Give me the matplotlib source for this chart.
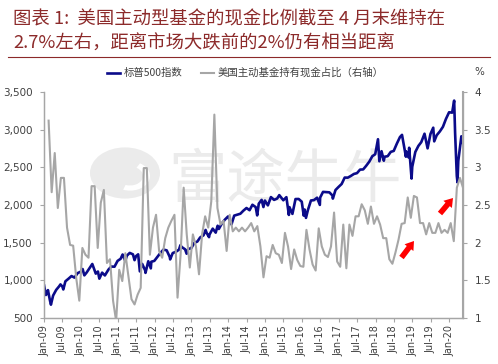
import numpy as np
import pandas as pd
import matplotlib
matplotlib.use("Agg")
import matplotlib.pyplot as plt
from matplotlib.patches import Circle, Wedge, FancyArrowPatch

plt.rcParams['font.family'] = ['Noto Sans CJK SC', 'DejaVu Sans']

# S&P 500 (date, level)
sp_dates = [
    "2009-01-02", "2009-01-20", "2009-01-30", "2009-02-09", "2009-02-27", "2009-03-09",
    "2009-03-31", "2009-04-30", "2009-05-29", "2009-06-12", "2009-06-30", "2009-07-10",
    "2009-07-31", "2009-08-31", "2009-09-30", "2009-10-30", "2009-11-30", "2009-12-31",
    "2010-01-19", "2010-02-05", "2010-02-26", "2010-03-31", "2010-04-23", "2010-05-28",
    "2010-06-18", "2010-07-02", "2010-07-30", "2010-08-27", "2010-09-30", "2010-10-29",
    "2010-11-30", "2010-12-31", "2011-01-31", "2011-02-18", "2011-03-16", "2011-03-31",
    "2011-04-29", "2011-05-31", "2011-06-16", "2011-06-30", "2011-07-22", "2011-08-08",
    "2011-08-31", "2011-09-30", "2011-10-03", "2011-10-31", "2011-11-25", "2011-11-30",
    "2011-12-30", "2012-01-31", "2012-02-29", "2012-03-30", "2012-04-30", "2012-05-31",
    "2012-06-04", "2012-06-29", "2012-07-31", "2012-08-31", "2012-09-14", "2012-09-28",
    "2012-10-31", "2012-11-15", "2012-11-30", "2012-12-31", "2013-01-31", "2013-02-28",
    "2013-03-28", "2013-04-30", "2013-05-21", "2013-05-31", "2013-06-24", "2013-06-28",
    "2013-07-31", "2013-08-30", "2013-09-18", "2013-09-30", "2013-10-31", "2013-11-29",
    "2013-12-31", "2014-02-03", "2014-02-28", "2014-03-31", "2014-04-30", "2014-05-30",
    "2014-06-30", "2014-07-31", "2014-08-29", "2014-09-30", "2014-10-15", "2014-10-31",
    "2014-11-28", "2014-12-16", "2014-12-31", "2015-01-30", "2015-02-27", "2015-03-31",
    "2015-04-30", "2015-05-21", "2015-06-30", "2015-07-31", "2015-08-25", "2015-08-31",
    "2015-09-29", "2015-10-30", "2015-11-30", "2015-12-31", "2016-01-20", "2016-01-29",
    "2016-02-11", "2016-02-29", "2016-03-31", "2016-04-29", "2016-05-31", "2016-06-27",
    "2016-06-30", "2016-07-29", "2016-08-31", "2016-09-30", "2016-10-31", "2016-11-04",
    "2016-11-30", "2016-12-30", "2017-01-31", "2017-02-28", "2017-03-31", "2017-04-28",
    "2017-05-31", "2017-06-30", "2017-07-31", "2017-08-31", "2017-09-29", "2017-10-31",
    "2017-11-30", "2017-12-29", "2018-01-26", "2018-02-08", "2018-02-28", "2018-03-23",
    "2018-03-31", "2018-04-30", "2018-05-31", "2018-06-29", "2018-07-31", "2018-08-31",
    "2018-09-20", "2018-10-29", "2018-10-31", "2018-11-23", "2018-11-30", "2018-12-24",
    "2018-12-31", "2019-01-31", "2019-02-28", "2019-03-29", "2019-04-30", "2019-05-31",
    "2019-06-28", "2019-07-26", "2019-08-05", "2019-08-30", "2019-09-30", "2019-10-31",
    "2019-11-29", "2019-12-31", "2020-01-31", "2020-02-19", "2020-02-28", "2020-03-16",
    "2020-03-23", "2020-03-31", "2020-04-30", "2020-05-13", "2020-05-29",
]
sp_values = [
    931, 805, 826, 870, 735, 677,
    798, 873, 919, 946, 919, 879,
    987, 1021, 1057, 1036, 1096, 1115,
    1150, 1066, 1104, 1169, 1217, 1089,
    1117, 1022, 1102, 1065, 1141, 1183,
    1181, 1258, 1286, 1343, 1257, 1326,
    1364, 1345, 1268, 1321, 1345, 1119,
    1219, 1131, 1099, 1253, 1159, 1247,
    1258, 1312, 1366, 1408, 1398, 1310,
    1278, 1362, 1379, 1407, 1466, 1441,
    1412, 1353, 1416, 1426, 1498, 1515,
    1569, 1598, 1669, 1631, 1573, 1606,
    1686, 1633, 1725, 1682, 1757, 1806,
    1848, 1742, 1859, 1872, 1884, 1924,
    1960, 1931, 2003, 1972, 1862, 2018,
    2068, 1973, 2059, 1995, 2105, 2068,
    2086, 2131, 2063, 2104, 1868, 1972,
    1882, 2079, 2080, 2044, 1859, 1940,
    1829, 1932, 2060, 2065, 2097, 2001,
    2099, 2174, 2171, 2168, 2126, 2085,
    2199, 2239, 2279, 2364, 2363, 2384,
    2412, 2423, 2470, 2472, 2519, 2575,
    2648, 2674, 2873, 2581, 2714, 2588,
    2641, 2648, 2705, 2718, 2816, 2902,
    2931, 2641, 2712, 2633, 2760, 2351,
    2507, 2704, 2784, 2834, 2946, 2752,
    2942, 3026, 2845, 2926, 2977, 3038,
    3141, 3231, 3226, 3386, 2954, 2386,
    2300, 2585, 2912, 2820, 3044,
]

# cash share of US active funds (%), monthly Jan-09 .. Apr-20
cash_pct = [
    3.62, 2.67, 3.19, 2.46, 2.86, 2.86, 2.20, 1.97, 1.96, 1.53,
    1.23, 1.93, 1.84, 1.80, 2.75, 2.75, 1.93, 2.53, 2.70, 1.73,
    1.78, 1.23, 0.96, 1.64, 1.49, 1.86, 1.55, 1.25, 1.18, 1.31,
    1.40, 2.99, 2.99, 1.84, 2.20, 2.37, 1.89, 1.80, 2.06, 2.20,
    2.29, 2.37, 1.27, 1.84, 2.73, 2.11, 1.67, 2.11, 1.95, 1.58,
    2.11, 2.35, 2.20, 2.55, 3.70, 2.46, 2.24, 2.29, 1.89, 2.37,
    2.15, 2.20, 2.15, 2.20, 2.15, 2.20, 2.26, 2.15, 2.22, 1.95,
    1.54, 1.82, 1.80, 1.97, 1.86, 1.84, 1.73, 2.13, 1.95, 1.65,
    1.91, 1.77, 1.69, 1.68, 2.17, 1.91, 1.71, 1.63, 2.19, 1.95,
    1.84, 1.81, 1.95, 2.40, 1.75, 1.68, 2.24, 1.66, 2.24, 2.09,
    2.35, 2.35, 2.51, 2.43, 2.25, 2.48, 2.25, 2.35, 2.24, 2.06,
    2.06, 1.78, 1.72, 1.87, 2.04, 2.25, 2.26, 2.60, 2.33, 2.62,
    2.60, 2.26, 2.26, 2.11, 2.26, 2.13, 2.13, 2.26, 2.13, 2.17,
    2.13, 2.26, 2.02, 2.73, 2.86, 2.73,
]

x_labels = [f"{m}-{y:02d}" for y in range(9, 21) for m in ("Jan", "Jul")][:23]

title_lines = ["图表 1:  美国主动型基金的现金比例截至 4 月末维持在",
               "2.7%左右，距离市场大跌前的2%仍有相当距离"]


def month_pos(d):
    d = pd.Timestamp(d)
    return (d.year - 2009) * 12 + d.month - 1 + (d.day - 1) / d.days_in_month


sp_x = np.array([month_pos(d) for d in sp_dates])
cash_x = np.arange(len(cash_pct)) + 1.5

W, H = 498, 364
fig = plt.figure(figsize=(W / 100, H / 100), dpi=100)
ax = fig.add_axes([44 / W, 1 - 318 / H, (463.3 - 44) / W, (318 - 92) / H])
ax2 = ax.twinx()

navy = '#0b0b8a'
grey = '#a6a6a6'
axis_col = '#a6a6a6'
txt = '#404040'

ax.plot(sp_x, sp_values, color=navy, lw=1.9, zorder=2, label='标普500指数')
ax2.plot(cash_x, cash_pct, color=grey, lw=1.5, zorder=2,
         label='美国主动基金持有现金占比（右轴）')

ax.set_xlim(0, 136.6)
ax.set_ylim(500, 3500)
ax2.set_ylim(1, 4)

ax.set_xticks(np.arange(0, 133, 6))
ax.set_xticklabels(x_labels, rotation=90, fontsize=7, color=txt,
                   family=['DejaVu Sans'])
ax.set_yticks(np.arange(500, 3501, 500))
ax.set_yticklabels([f"{v:,}" for v in range(500, 3501, 500)], fontsize=7.5,
                   color=txt, family=['DejaVu Sans'])
ax2.set_yticks(np.arange(1, 4.01, 0.5))
ax2.set_yticklabels(["1", "1.5", "2", "2.5", "3", "3.5", "4"], fontsize=7.5,
                    color=txt, family=['DejaVu Sans'])

for a in (ax, ax2):
    for s in a.spines.values():
        s.set_color(axis_col)
        s.set_linewidth(0.9)
    a.spines['top'].set_visible(False)
ax2.spines['right'].set_linewidth(1.5)
ax.tick_params(axis='x', length=3, width=0.8, color=axis_col, pad=2)
ax.tick_params(axis='y', length=3, width=0.8, color=axis_col, pad=5)
ax2.tick_params(axis='y', length=3, width=0.8, color=axis_col, pad=5)

# watermark
wm_col = '#ebebeb'
ax.add_artist(Circle((125 / W, 1 - 173 / H), 35 / W, transform=fig.transFigure,
                     facecolor=wm_col, edgecolor='none', zorder=0.5))
ax.add_artist(Wedge((130 / W, 1 - 176 / H), 20 / W, 250, 60, width=7 / W,
                    transform=fig.transFigure, facecolor='white',
                    edgecolor='none', zorder=0.6))
ax.text(285 / W, 1 - 181 / H, "富途牛牛", transform=fig.transFigure,
        fontsize=42, color=wm_col, ha='center', va='center', zorder=0.5)

# red arrows
for (x0, y0), (x1, y1) in [((401.5, 257.5), (414, 241)), ((440, 213.5), (453, 198))]:
    arr = FancyArrowPatch((x0 / W, 1 - y0 / H), (x1 / W, 1 - y1 / H),
                          transform=fig.transFigure,
                          arrowstyle='simple,head_width=8,head_length=6,tail_width=4',
                          mutation_scale=1, color='#ff0000', lw=0,
                          shrinkA=0, shrinkB=0, zorder=5)
    fig.patches.append(arr)

# legend
h1, l1 = ax.get_legend_handles_labels()
h2, l2 = ax2.get_legend_handles_labels()
fig.legend(h1 + h2, l1 + l2, loc='center', bbox_to_anchor=(245 / W, 1 - 73 / H),
           ncol=2, frameon=False, fontsize=7.5, handlelength=1.3,
           handletextpad=0.3, columnspacing=1.8, labelcolor=txt)

fig.text(474 / W, 1 - 72 / H, "%", fontsize=7.5, color=txt, ha='left', va='center',
         family=['DejaVu Sans'])

# title
red = '#8c2a2a'
fig.text(13 / W, 1 - 19 / H, title_lines[0], fontsize=13.2, color=red,
         ha='left', va='center')
fig.text(13 / W, 1 - 44 / H, title_lines[1], fontsize=13.2, color=red,
         ha='left', va='center')
fig.add_artist(plt.Line2D([8 / W, 490 / W], [1 - 57 / H, 1 - 57 / H],
                          transform=fig.transFigure, color=red, lw=0.8))

fig.savefig("out.png", dpi=100, facecolor='white')
